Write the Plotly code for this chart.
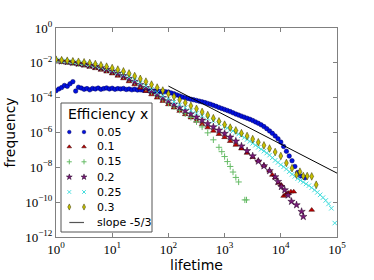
import plotly.graph_objects as go

# ---------------- data (log10 of lifetime / frequency) ----------------
eff_labels = ["0.05", "0.1", "0.15", "0.2", "0.25", "0.3"]

lt_005 = [0.00, 0.05, 0.10, 0.15, 0.20, 0.25, 0.30, 0.35, 0.40, 0.45, 0.50, 0.55, 0.60, 0.65, 0.70,
          0.75, 0.80, 0.85, 0.90, 0.95, 1.00, 1.05, 1.10, 1.15, 1.20, 1.25, 1.30, 1.35, 1.40, 1.45,
          1.50, 1.55, 1.60, 1.65, 1.70, 1.75, 1.80, 1.85, 1.90, 1.95, 2.00, 2.05, 2.10, 2.15, 2.20,
          2.25, 2.30, 2.35, 2.40, 2.45, 2.50, 2.55, 2.60, 2.65, 2.70, 2.75, 2.80, 2.85, 2.90, 2.95,
          3.00, 3.05, 3.10, 3.15, 3.20, 3.25, 3.30, 3.35, 3.40, 3.45, 3.50, 3.55, 3.60, 3.65, 3.70,
          3.75, 3.80, 3.85, 3.90, 3.95, 4.00, 4.05, 4.10, 4.15, 4.20, 4.25, 4.30, 4.35, 4.43]
fr_005 = [-3.60, -3.50, -3.42, -3.30, -3.35, -3.20, -3.08, -3.62, -3.40, -3.45, -3.52, -3.48, -3.55, -3.47, -3.50,
          -3.45, -3.52, -3.48, -3.44, -3.50, -3.46, -3.52, -3.48, -3.50, -3.47, -3.53, -3.50, -3.55, -3.52, -3.56,
          -3.55, -3.58, -3.57, -3.60, -3.60, -3.62, -3.63, -3.64, -3.65, -3.66, -3.68, -3.73, -3.78, -3.84, -3.90,
          -3.96, -4.01, -4.05, -4.09, -4.12, -4.16, -4.20, -4.24, -4.28, -4.33, -4.38, -4.44, -4.50, -4.56, -4.62,
          -4.68, -4.74, -4.80, -4.87, -4.94, -5.00, -5.06, -5.12, -5.18, -5.24, -5.31, -5.39, -5.47, -5.56, -5.66,
          -5.78, -5.91, -6.05, -6.20, -6.36, -6.55, -6.80, -7.08, -7.35, -7.62, -7.95, -8.30, -8.50, -8.60]

lt_01 = [0.0, 0.1, 0.2, 0.3, 0.4, 0.5, 0.6, 0.7, 0.8, 0.9, 1.0, 1.1, 1.2, 1.3, 1.4, 1.5, 1.6, 1.7, 1.8, 1.9,
         2.0, 2.1, 2.2, 2.3, 2.4, 2.5, 2.6, 2.7, 2.8, 2.9, 3.0, 3.1, 3.2, 3.3, 3.4, 3.5, 3.6, 3.7, 3.8,
         3.85, 3.90, 3.96, 4.01, 4.05, 4.09, 4.13, 4.18, 4.23, 4.55]
fr_01 = [-1.90, -1.95, -2.00, -2.05, -2.11, -2.17, -2.24, -2.32, -2.41, -2.51, -2.62, -2.75, -2.90, -3.07, -3.25,
         -3.44, -3.63, -3.82, -4.01, -4.20, -4.39, -4.58, -4.77, -4.96, -5.15, -5.34, -5.53, -5.72, -5.91, -6.10,
         -6.28, -6.50, -6.72, -6.93, -7.18, -7.42, -7.62, -7.90, -8.20,
         -8.44, -8.60, -8.90, -9.02, -9.65, -9.55, -9.47, -9.40, -9.40, -10.45]

lt_015 = [0.0, 0.1, 0.2, 0.3, 0.4, 0.5, 0.6, 0.7, 0.8, 0.9, 1.0, 1.1, 1.2, 1.3, 1.4, 1.5, 1.6, 1.7, 1.8, 1.9,
          2.0, 2.1, 2.2, 2.3, 2.4, 2.5, 2.6, 2.7, 2.8, 2.9, 2.95, 3.0, 3.05, 3.1, 3.15, 3.2, 3.25, 3.36, 3.39]
fr_015 = [-1.86, -1.90, -1.94, -1.99, -2.04, -2.09, -2.15, -2.22, -2.30, -2.39, -2.49, -2.61, -2.75, -2.91, -3.08,
          -3.27, -3.46, -3.66, -3.87, -4.09, -4.31, -4.52, -4.72, -4.92, -5.13, -5.38, -5.68, -6.02, -6.42, -6.85,
          -7.10, -7.38, -7.67, -7.95, -8.27, -8.58, -8.84, -9.87, -9.87]

lt_02 = [0.0, 0.1, 0.2, 0.3, 0.4, 0.5, 0.6, 0.7, 0.8, 0.9, 1.0, 1.1, 1.2, 1.3, 1.4, 1.5, 1.6, 1.7, 1.8, 1.9,
         2.0, 2.1, 2.2, 2.3, 2.4, 2.5, 2.6, 2.7, 2.8, 2.9, 3.0, 3.1, 3.2, 3.3, 3.4, 3.5, 3.6, 3.7, 3.8, 3.9,
         3.95, 4.01, 4.07, 4.13, 4.19, 4.28, 4.37, 4.40]
fr_02 = [-1.86, -1.90, -1.94, -1.98, -2.03, -2.08, -2.14, -2.21, -2.29, -2.38, -2.48, -2.60, -2.74, -2.90, -3.07,
         -3.25, -3.43, -3.62, -3.81, -4.00, -4.19, -4.38, -4.56, -4.75, -4.93, -5.12, -5.30, -5.49, -5.68, -5.87,
         -6.06, -6.27, -6.50, -6.78, -7.05, -7.35, -7.65, -7.92, -8.20, -8.55,
         -8.82, -9.11, -9.30, -9.60, -9.96, -10.16, -10.54, -10.83]

lt_025 = [0.0, 0.1, 0.2, 0.3, 0.4, 0.5, 0.6, 0.7, 0.8, 0.9, 1.0, 1.1, 1.2, 1.3, 1.4, 1.5, 1.6, 1.7, 1.8, 1.9,
          2.0, 2.1, 2.2, 2.3, 2.4, 2.5, 2.6, 2.7, 2.8, 2.9,
          3.00, 3.05, 3.10, 3.15, 3.20, 3.25, 3.30, 3.35, 3.40, 3.45, 3.50, 3.55, 3.60, 3.65, 3.70, 3.75,
          3.80, 3.85, 3.90, 3.95, 4.00, 4.05, 4.10, 4.15, 4.20, 4.25, 4.30, 4.35, 4.40, 4.45, 4.50, 4.55,
          4.60, 4.65, 4.70, 4.75, 4.80, 4.85, 4.90, 4.96]
fr_025 = [-1.84, -1.88, -1.91, -1.95, -1.99, -2.04, -2.09, -2.16, -2.23, -2.32, -2.42, -2.53, -2.66, -2.81, -2.97,
          -3.15, -3.33, -3.52, -3.71, -3.90, -4.08, -4.25, -4.42, -4.58, -4.74, -4.89, -5.04, -5.19, -5.34, -5.50,
          -5.66, -5.74, -5.83, -5.91, -6.00, -6.09, -6.18, -6.29, -6.40, -6.51, -6.62, -6.73, -6.85, -6.96, -7.07,
          -7.18, -7.30, -7.45, -7.60, -7.72, -7.85, -7.97, -8.10, -8.25, -8.40, -8.52, -8.65, -8.75, -8.85, -8.95,
          -9.05, -9.17, -9.30, -9.44, -9.58, -9.74, -9.90, -10.10, -10.35, -11.20]

lt_03 = [0.0, 0.1, 0.2, 0.3, 0.4, 0.5, 0.6, 0.7, 0.8, 0.9, 1.0, 1.1, 1.2, 1.3, 1.4, 1.5, 1.6, 1.7, 1.8, 1.9,
         2.0, 2.1, 2.2, 2.3, 2.4, 2.5, 2.6, 2.7, 2.8, 2.9, 3.0, 3.1, 3.2, 3.3, 3.4, 3.5, 3.6, 3.7, 3.8, 3.9, 4.0,
         4.10, 4.20, 4.28, 4.34, 4.40, 4.47, 4.55, 4.63]
fr_03 = [-1.82, -1.85, -1.88, -1.91, -1.94, -1.97, -2.01, -2.07, -2.14, -2.22, -2.30, -2.39, -2.49, -2.61, -2.76,
         -2.92, -3.08, -3.25, -3.42, -3.59, -3.77, -3.94, -4.12, -4.29, -4.47, -4.64, -4.82, -5.00, -5.18, -5.36,
         -5.55, -5.72, -5.88, -6.04, -6.20, -6.38, -6.56, -6.74, -6.92, -7.12, -7.35,
         -7.75, -8.05, -8.42, -8.25, -8.50, -8.50, -8.52, -9.00]

slope_label = "slope -5/3"
slope_lifetime = [1e2, 1e5]
slope_freq = [4.64e-4, 4.64e-9]

x_tick_vals = [1e0, 1e1, 1e2, 1e3, 1e4, 1e5]
x_tick_text = ["10<sup>0</sup>", "10<sup>1</sup>", "10<sup>2</sup>", "10<sup>3</sup>", "10<sup>4</sup>", "10<sup>5</sup>"]
y_tick_vals = [1e0, 1e-2, 1e-4, 1e-6, 1e-8, 1e-10, 1e-12]
y_tick_text = ["10<sup>0</sup>", "10<sup>−2</sup>", "10<sup>−4</sup>", "10<sup>−6</sup>",
               "10<sup>−8</sup>", "10<sup>−10</sup>", "10<sup>−12</sup>"]

series_lt = [lt_005, lt_01, lt_015, lt_02, lt_025, lt_03]
series_fr = [fr_005, fr_01, fr_015, fr_02, fr_025, fr_03]

# ---------------- styles ----------------
styles = [
    dict(symbol="circle", size=4.5, color="#0010e0", line=dict(color="#000060", width=0.5)),
    dict(symbol="triangle-up", size=5, color="#c00000", line=dict(color="#300000", width=0.5)),
    dict(symbol="cross-thin", size=4.5, color="#66bb66", line=dict(color="#66bb66", width=1)),
    dict(symbol="star", size=5.5, color="#7a1a7a", line=dict(color="#200020", width=0.5)),
    dict(symbol="x-thin", size=4.5, color="#44dddd", line=dict(color="#44dddd", width=1)),
    dict(symbol="diamond-tall", size=5.5, color="#c8c000", line=dict(color="#333300", width=0.5)),
]

fig = go.Figure()

for lt, fr, lab, st in zip(series_lt, series_fr, eff_labels, styles):
    fig.add_trace(go.Scatter(
        x=[10 ** v for v in lt], y=[10 ** v for v in fr], mode="markers", name=lab,
        marker=dict(symbol=st["symbol"], size=st["size"], color=st["color"], line=st["line"]),
        showlegend=False, xaxis="x", yaxis="y", cliponaxis=True,
    ))

fig.add_trace(go.Scatter(x=slope_lifetime, y=slope_freq, mode="lines", name=slope_label,
                         line=dict(color="black", width=1), showlegend=False))

# ---------------- hand-drawn legend (matplotlib style, two markers per entry) ----------------
L_LEFT, L_RIGHT, L_TOP, L_BOTTOM = 61, 152, 103, 232
row_y = [132, 146.8, 161.8, 177, 192, 207, 222.5]
mk_x = [69.3, 84]

fig.add_trace(go.Scatter(
    x=[L_LEFT, L_RIGHT, L_RIGHT, L_LEFT, L_LEFT], y=[L_TOP, L_TOP, L_BOTTOM, L_BOTTOM, L_TOP],
    mode="lines", fill="toself", fillcolor="white", line=dict(color="#555555", width=1),
    xaxis="x2", yaxis="y2", showlegend=False, hoverinfo="skip"))

for i, st in enumerate(styles):
    fig.add_trace(go.Scatter(
        x=mk_x, y=[row_y[i], row_y[i]], mode="markers",
        marker=dict(symbol=st["symbol"], size=st["size"] * 0.8, color=st["color"], line=st["line"]),
        xaxis="x2", yaxis="y2", showlegend=False, hoverinfo="skip"))

fig.add_trace(go.Scatter(x=mk_x, y=[row_y[6], row_y[6]], mode="lines",
                         line=dict(color="#555555", width=1.2), xaxis="x2", yaxis="y2",
                         showlegend=False, hoverinfo="skip"))

annotations = [dict(x=66, y=114, xref="x2", yref="y2", text="Efficiency x", showarrow=False,
                    xanchor="left", yanchor="middle", font=dict(family="DejaVu Sans", size=14, color="black"))]
for i, lab in enumerate(eff_labels + [slope_label]):
    annotations.append(dict(x=95, y=row_y[i], xref="x2", yref="y2", text=lab, showarrow=False,
                            xanchor="left", yanchor="middle",
                            font=dict(family="DejaVu Sans", size=11, color="black")))

axis_common = dict(showgrid=False, zeroline=False, showline=True, linecolor="#808080", linewidth=1,
                   mirror="ticks", ticks="inside", ticklen=4, tickwidth=1, tickcolor="#808080",
                   tickfont=dict(family="Liberation Serif", size=13, color="black"), automargin=False)

fig.update_layout(
    width=374, height=280,
    margin=dict(l=56, r=37, t=28, b=43, pad=0),
    paper_bgcolor="white", plot_bgcolor="white",
    showlegend=False,
    xaxis=dict(type="log", range=[0, 5], tickvals=x_tick_vals, ticktext=x_tick_text,
               title=dict(text="lifetime", font=dict(family="DejaVu Sans", size=14, color="black"), standoff=0),
               **axis_common),
    yaxis=dict(type="log", range=[-12, 0], tickvals=y_tick_vals, ticktext=y_tick_text,
               title=dict(text="frequency", font=dict(family="DejaVu Sans", size=14, color="black"), standoff=6),
               **axis_common),
    xaxis2=dict(overlaying="x", range=[56, 337], visible=False, fixedrange=True),
    yaxis2=dict(overlaying="y", range=[237, 28], visible=False, fixedrange=True),
    annotations=annotations,
)

fig.write_html("out.html", config={"displayModeBar": False},
               post_script="document.body.style.margin='0';")
